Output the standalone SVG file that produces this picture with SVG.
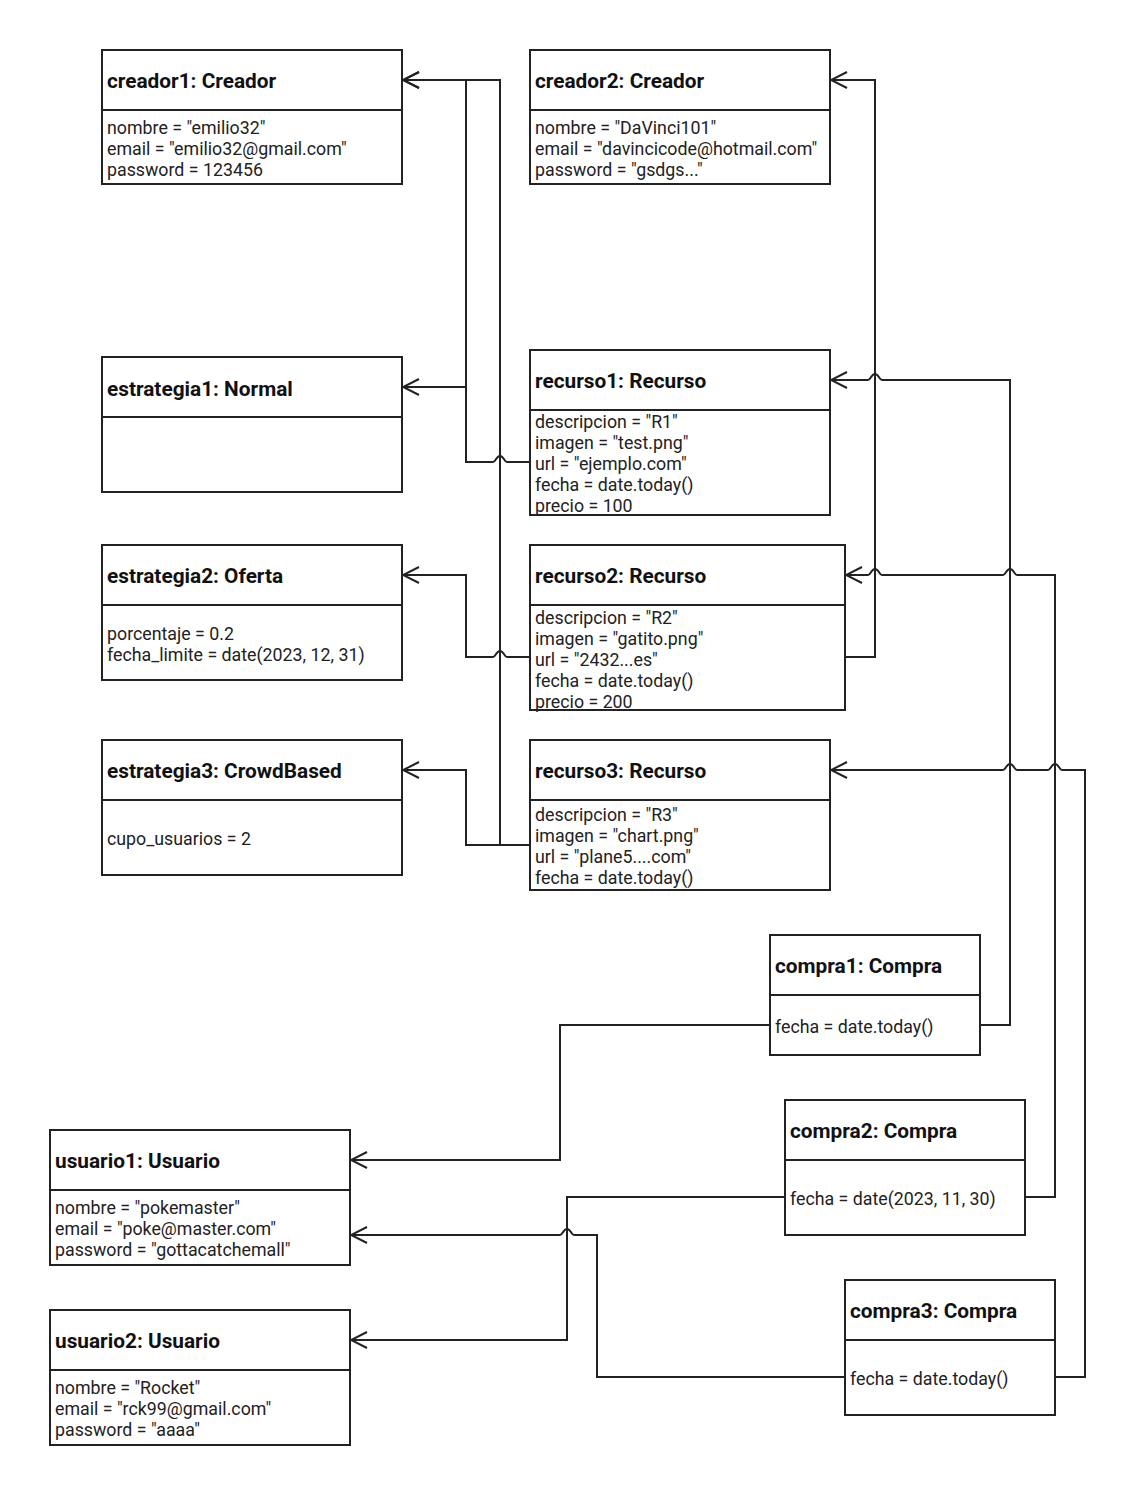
<svg xmlns="http://www.w3.org/2000/svg" width="1122" height="1495" viewBox="0 0 1122 1495">
<style>
.box{fill:#fff;stroke:#222;stroke-width:2}
.sep{stroke:#222;stroke-width:2}
.t{font-family:Roboto,"Liberation Sans",sans-serif;font-size:20.8px;font-weight:bold;fill:#111}
.a{font-family:Roboto,"Liberation Sans",sans-serif;font-size:17.8px;fill:#222}
.c{fill:none;stroke:#222;stroke-width:2;stroke-linejoin:miter}
</style>
<defs>
<marker id="arr" markerUnits="userSpaceOnUse" markerWidth="20" markerHeight="20" viewBox="-18 -10 20 20" refX="0" refY="0" orient="auto">
<path d="M-16,-8 L0,0 L-16,8" fill="none" stroke="#222" stroke-width="2"/>
</marker>
</defs>
<rect width="1122" height="1495" fill="#fff"/>
<g id="connectors">
<path class="c" marker-end="url(#arr)" d="M530,462 L507,462 C504,462 504,456 500,456 C496,456 496,462 493,462 L466,462 L466,80 L403,80"/>
<path class="c" marker-end="url(#arr)" d="M466,387 L403,387"/>
<path class="c" marker-end="url(#arr)" d="M530,657 L507,657 C504,657 504,651 500,651 C496,651 496,657 493,657 L466,657 L466,575 L403,575"/>
<path class="c" marker-end="url(#arr)" d="M530,845 L500,845 L500,80 L403,80"/>
<path class="c" marker-end="url(#arr)" d="M500,845 L466,845 L466,770 L403,770"/>
<path class="c" marker-end="url(#arr)" d="M845,657 L875,657 L875,80 L831,80"/>
<path class="c" marker-end="url(#arr)" d="M980,1025 L1010,1025 L1010,380 L882,380 C879,380 879,374 875,374 C871,374 871,380 868,380 L831,380"/>
<path class="c" marker-end="url(#arr)" d="M1025,1197 L1055,1197 L1055,575 L1017,575 C1014,575 1014,569 1010,569 C1006,569 1006,575 1003,575 L882,575 C879,575 879,569 875,569 C871,569 871,575 868,575 L846,575"/>
<path class="c" marker-end="url(#arr)" d="M1055,1377 L1085,1377 L1085,770 L1062,770 C1059,770 1059,764 1055,764 C1051,764 1051,770 1048,770 L1017,770 C1014,770 1014,764 1010,764 C1006,764 1006,770 1003,770 L831,770"/>
<path class="c" marker-end="url(#arr)" d="M770,1025 L560,1025 L560,1160 L351,1160"/>
<path class="c" marker-end="url(#arr)" d="M785,1197 L567,1197 L567,1340 L351,1340"/>
<path class="c" marker-end="url(#arr)" d="M845,1377 L597,1377 L597,1235 L574,1235 C571,1235 571,1229 567,1229 C563,1229 563,1235 560,1235 L351,1235"/>
</g>
<g id="creador1">
<rect class="box" x="102" y="50" width="300" height="134"/>
<line class="sep" x1="102" y1="110" x2="402" y2="110"/>
<text class="t" x="107" y="88">creador1: Creador</text>
<text class="a" x="107" y="134">nombre = "emilio32"<tspan x="107" dy="21">email = "emilio32@gmail.com"</tspan><tspan x="107" dy="21">password = 123456</tspan></text>
</g>
<g id="creador2">
<rect class="box" x="530" y="50" width="300" height="134"/>
<line class="sep" x1="530" y1="110" x2="830" y2="110"/>
<text class="t" x="535" y="88">creador2: Creador</text>
<text class="a" x="535" y="134">nombre = "DaVinci101"<tspan x="535" dy="21">email = "davincicode@hotmail.com"</tspan><tspan x="535" dy="21">password = "gsdgs..."</tspan></text>
</g>
<g id="estrategia1">
<rect class="box" x="102" y="357" width="300" height="135"/>
<line class="sep" x1="102" y1="417" x2="402" y2="417"/>
<text class="t" x="107" y="396">estrategia1: Normal</text>
</g>
<g id="recurso1">
<rect class="box" x="530" y="350" width="300" height="165"/>
<line class="sep" x1="530" y1="410" x2="830" y2="410"/>
<text class="t" x="535" y="388">recurso1: Recurso</text>
<text class="a" x="535" y="428">descripcion = "R1"<tspan x="535" dy="21">imagen = "test.png"</tspan><tspan x="535" dy="21">url = "ejemplo.com"</tspan><tspan x="535" dy="21">fecha = date.today()</tspan><tspan x="535" dy="21">precio = 100</tspan></text>
</g>
<g id="estrategia2">
<rect class="box" x="102" y="545" width="300" height="135"/>
<line class="sep" x1="102" y1="605" x2="402" y2="605"/>
<text class="t" x="107" y="583">estrategia2: Oferta</text>
<text class="a" x="107" y="640">porcentaje = 0.2<tspan x="107" dy="21">fecha_limite = date(2023, 12, 31)</tspan></text>
</g>
<g id="recurso2">
<rect class="box" x="530" y="545" width="315" height="165"/>
<line class="sep" x1="530" y1="605" x2="845" y2="605"/>
<text class="t" x="535" y="583">recurso2: Recurso</text>
<text class="a" x="535" y="624">descripcion = "R2"<tspan x="535" dy="21">imagen = "gatito.png"</tspan><tspan x="535" dy="21">url = "2432...es"</tspan><tspan x="535" dy="21">fecha = date.today()</tspan><tspan x="535" dy="21">precio = 200</tspan></text>
</g>
<g id="estrategia3">
<rect class="box" x="102" y="740" width="300" height="135"/>
<line class="sep" x1="102" y1="800" x2="402" y2="800"/>
<text class="t" x="107" y="778">estrategia3: CrowdBased</text>
<text class="a" x="107" y="845">cupo_usuarios = 2</text>
</g>
<g id="recurso3">
<rect class="box" x="530" y="740" width="300" height="150"/>
<line class="sep" x1="530" y1="800" x2="830" y2="800"/>
<text class="t" x="535" y="778">recurso3: Recurso</text>
<text class="a" x="535" y="821">descripcion = "R3"<tspan x="535" dy="21">imagen = "chart.png"</tspan><tspan x="535" dy="21">url = "plane5....com"</tspan><tspan x="535" dy="21">fecha = date.today()</tspan></text>
</g>
<g id="compra1">
<rect class="box" x="770" y="935" width="210" height="120"/>
<line class="sep" x1="770" y1="995" x2="980" y2="995"/>
<text class="t" x="775" y="973">compra1: Compra</text>
<text class="a" x="775" y="1033">fecha = date.today()</text>
</g>
<g id="compra2">
<rect class="box" x="785" y="1100" width="240" height="135"/>
<line class="sep" x1="785" y1="1160" x2="1025" y2="1160"/>
<text class="t" x="790" y="1138">compra2: Compra</text>
<text class="a" x="790" y="1205">fecha = date(2023, 11, 30)</text>
</g>
<g id="compra3">
<rect class="box" x="845" y="1280" width="210" height="135"/>
<line class="sep" x1="845" y1="1340" x2="1055" y2="1340"/>
<text class="t" x="850" y="1318">compra3: Compra</text>
<text class="a" x="850" y="1385">fecha = date.today()</text>
</g>
<g id="usuario1">
<rect class="box" x="50" y="1130" width="300" height="135"/>
<line class="sep" x1="50" y1="1190" x2="350" y2="1190"/>
<text class="t" x="55" y="1168">usuario1: Usuario</text>
<text class="a" x="55" y="1214">nombre = "pokemaster"<tspan x="55" dy="21">email = "poke@master.com"</tspan><tspan x="55" dy="21">password = "gottacatchemall"</tspan></text>
</g>
<g id="usuario2">
<rect class="box" x="50" y="1310" width="300" height="135"/>
<line class="sep" x1="50" y1="1370" x2="350" y2="1370"/>
<text class="t" x="55" y="1348">usuario2: Usuario</text>
<text class="a" x="55" y="1394">nombre = "Rocket"<tspan x="55" dy="21">email = "rck99@gmail.com"</tspan><tspan x="55" dy="21">password = "aaaa"</tspan></text>
</g>
</svg>
